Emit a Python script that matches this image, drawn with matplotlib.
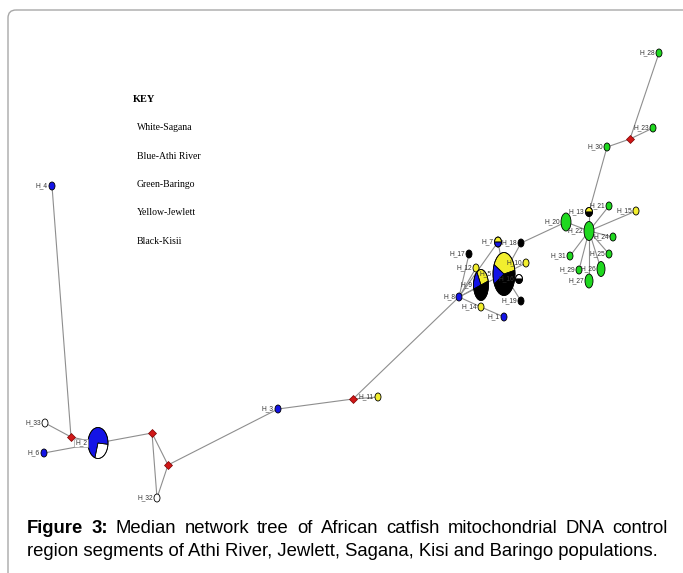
import matplotlib
matplotlib.use('Agg')
import matplotlib.pyplot as plt
from matplotlib.patches import Wedge, Ellipse, FancyBboxPatch
from matplotlib.transforms import Affine2D

sagana = {'H_2': 2, 'H_33': 1, 'H_32': 1, 'H_16': 1}
athi = {'H_2': 5, 'H_4': 1, 'H_6': 1, 'H_3': 1, 'H_8': 1, 'H_7': 1,
        'H_9': 2, 'H_5': 3, 'H_1': 1}
baringo = {'H_20': 4, 'H_22': 4, 'H_21': 1, 'H_24': 1, 'H_31': 1, 'H_25': 1,
           'H_29': 1, 'H_26': 3, 'H_27': 3, 'H_30': 1, 'H_23': 1, 'H_28': 1}
jewlett = {'H_11': 1, 'H_12': 1, 'H_7': 1, 'H_9': 3, 'H_5': 8, 'H_14': 1,
           'H_10': 1, 'H_13': 1, 'H_15': 1}
kisii = {'H_17': 1, 'H_9': 5, 'H_5': 9, 'H_18': 1, 'H_16': 1, 'H_19': 1,
         'H_13': 1}

key_title = 'KEY'
key_items = ['White-Sagana', 'Blue-Athi River', 'Green-Baringo',
             'Yellow-Jewlett', 'Black-Kisii']

edges = [('H_4', 'mv1'), ('H_33', 'mv1'), ('mv1', 'H_2'), ('H_6', 'H_2'),
         ('H_2', 'mv2'), ('mv2', 'mv3'), ('mv2', 'H_32'), ('mv3', 'H_32'),
         ('mv3', 'H_3'), ('H_3', 'mv4'), ('mv4', 'H_11'), ('mv4', 'H_8'),
         ('H_8', 'H_17'), ('H_8', 'H_12'), ('H_8', 'H_7'), ('H_8', 'H_9'),
         ('H_8', 'H_5'), ('H_8', 'H_14'), ('H_14', 'H_1'), ('H_7', 'H_5'),
         ('H_5', 'H_18'), ('H_5', 'H_10'), ('H_5', 'H_16'), ('H_5', 'H_19'),
         ('H_18', 'H_20'), ('H_20', 'H_22'), ('H_22', 'H_13'), ('H_22', 'H_21'),
         ('H_22', 'H_15'), ('H_22', 'H_24'), ('H_22', 'H_31'), ('H_22', 'H_25'),
         ('H_22', 'H_29'), ('H_22', 'H_26'), ('H_22', 'H_27'), ('H_13', 'H_30'),
         ('H_30', 'mv5'), ('mv5', 'H_23'), ('mv5', 'H_28')]

caption1 = ['Figure', '3:', 'Median', 'network', 'tree', 'of', 'African', 'catfish',
            'mitochondrial', 'DNA', 'control']
caption2 = 'region segments of Athi River, Jewlett, Sagana, Kisi and Baringo populations.'

# layout (pixel positions of the drawing)
pos = {
    'H_2': (98, 443), 'H_4': (52, 186), 'H_6': (44, 453), 'H_33': (45, 423),
    'H_32': (157, 498), 'H_3': (278, 409), 'H_11': (378, 397), 'H_8': (459, 297),
    'H_17': (469, 254), 'H_12': (476, 268), 'H_7': (498, 242), 'H_9': (481, 285),
    'H_5': (504, 274), 'H_14': (481, 307), 'H_1': (504, 317), 'H_18': (521, 243),
    'H_10': (526, 263), 'H_16': (519, 279), 'H_19': (521, 301),
    'H_20': (566, 222), 'H_13': (589, 212), 'H_22': (589, 231), 'H_21': (609, 206),
    'H_15': (636, 211), 'H_24': (613, 237), 'H_31': (570, 256), 'H_25': (609, 254),
    'H_29': (579, 270), 'H_26': (601, 269), 'H_27': (589, 281), 'H_30': (607, 147),
    'H_23': (653, 128), 'H_28': (659, 53),
    'mv1': (71, 437), 'mv2': (152, 433), 'mv3': (168, 465), 'mv4': (353, 399),
    'mv5': (630, 139),
}
size = {'H_2': (20, 31), 'H_5': (22, 43), 'H_9': (15, 31), 'H_20': (10, 18),
        'H_22': (10, 19), 'H_26': (8, 15), 'H_27': (8, 14), 'H_7': (7, 10),
        'H_16': (7, 9), 'H_13': (7, 9)}
start = {'H_2': -5, 'H_5': 10, 'H_9': 15}

pops = [(jewlett, '#f2ee2e'), (athi, '#1414e6'), (baringo, '#1fd81f'),
        (sagana, '#ffffff'), (kisii, '#000000')]

fig = plt.figure(figsize=(6.83, 5.73), dpi=100)
ax = fig.add_axes([0, 0, 1, 1])
ax.set_xlim(0, 683)
ax.set_ylim(573, 0)
ax.axis('off')

frame = FancyBboxPatch((8, 10), 700, 600, boxstyle='round,pad=0,rounding_size=8',
                       fc='none', ec='#a8a8a8', lw=1.0)
ax.add_patch(frame)

for a, b in edges:
    ax.plot([pos[a][0], pos[b][0]], [pos[a][1], pos[b][1]], color='#8e8e8e',
            lw=0.8, zorder=1)

for name, (cx, cy) in pos.items():
    if name.startswith('mv'):
        ax.plot(cx, cy, marker='D', ms=3.6, mfc='#d01818', mec='#7a0000',
                mew=0.5, zorder=3)
        continue
    w, h = size.get(name, (6, 8))
    counts = [(p.get(name, 0), c) for p, c in pops]
    total = sum(n for n, c in counts)
    tr = Affine2D().scale(w / 2, -h / 2).translate(cx, cy) + ax.transData
    ang = start.get(name, 0)
    for n, c in counts:
        if n == 0:
            continue
        th = 360 * n / total
        ax.add_patch(Wedge((0, 0), 1, ang, ang + th, fc=c, ec='none',
                           transform=tr, zorder=3))
        ang += th
    # slice borders
    if sum(1 for n, c in counts if n) > 1:
        ang = start.get(name, 0)
        for n, c in counts:
            if n == 0:
                continue
            ax.add_patch(Wedge((0, 0), 1, ang, ang + 360 * n / total, fc='none',
                               ec='black', lw=0.5, transform=tr, zorder=4))
            ang += 360 * n / total
    ax.add_patch(Ellipse((cx, cy), w, h, fc='none', ec='black', lw=0.6, zorder=4))
    bb = dict(fc='white', ec='#888888', lw=0.4, pad=0.6) if name == 'H_2' else None
    ax.text(cx - w / 2 - 1, cy, name, ha='right', va='center', fontsize=4.8,
            family='Liberation Sans', color='#333333', bbox=bb, zorder=5)

ax.text(133, 100, key_title, ha='left', va='center', fontsize=7.4,
        family='Liberation Serif', weight='bold')
for i, item in enumerate(key_items):
    ax.text(137, 128 + i * 28.3, item, ha='left', va='center', fontsize=7,
            family='Liberation Serif')

# caption, first line justified
fs = 13.3
x0, x1 = 27, 668
fig.canvas.draw()
r = fig.canvas.get_renderer()
words = []
for i, wd in enumerate(caption1):
    t = ax.text(0, 533, wd, ha='left', va='baseline', fontsize=fs,
                family='Liberation Sans', weight='bold' if i < 2 else 'normal')
    words.append(t)
widths = [t.get_window_extent(r).width for t in words]
gap = (x1 - x0 - sum(widths)) / (len(words) - 1)
x = x0
for t, wdt in zip(words, widths):
    t.set_x(x)
    x += wdt + gap
ax.text(x0, 556, caption2, ha='left', va='baseline', fontsize=fs,
        family='Liberation Sans')

fig.savefig('out.png', dpi=100)
